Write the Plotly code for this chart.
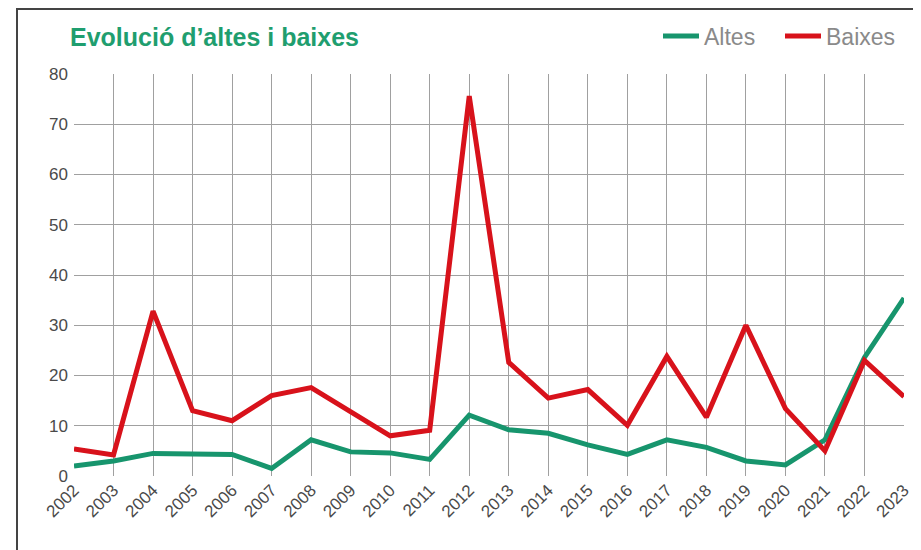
import plotly.graph_objects as go

years = list(range(2002, 2024))
altes = [2.0, 3.0, 4.5, 4.4, 4.3, 1.5, 7.2, 4.8, 4.6, 3.3, 12.1, 9.2, 8.5, 6.2, 4.3, 7.2, 5.7, 3.0, 2.2, 7.2, 23.6, 35.4]
baixes = [5.4, 4.2, 32.8, 13.0, 11.0, 16.0, 17.6, 12.7, 8.0, 9.1, 75.6, 22.6, 15.5, 17.2, 10.1, 23.8, 11.7, 30.0, 13.4, 5.0, 23.0, 15.8]
y_ticks = [0, 10, 20, 30, 40, 50, 60, 70, 80]

GREEN = "#17956d"
RED = "#d8121b"

# page has an 8px body margin; figure is sized to fit the 921x550 window
W, H = 913, 542
L, T = 66, 66
PW, PH = 830, 402
R = W - L - PW
B = H - T - PH

fig = go.Figure()
fig.add_trace(go.Scatter(x=years, y=altes, mode="lines", name="Altes",
                         line=dict(color=GREEN, width=5)))
fig.add_trace(go.Scatter(x=years, y=baixes, mode="lines", name="Baixes",
                         line=dict(color=RED, width=5)))

fig.update_layout(
    width=W, height=H,
    margin=dict(l=L, r=R, t=T, b=B, autoexpand=False),
    paper_bgcolor="white", plot_bgcolor="white",
    font=dict(family="Liberation Sans, Arial, sans-serif", color="#505050", size=17),
    title=dict(text="<b>Evolució d’altes i baixes</b>", x=62 / W, xref="container",
               xanchor="left", y=1 - 29 / H, yanchor="middle",
               font=dict(size=25, color="#1f9e6f", family="Liberation Sans, Arial, sans-serif")),
    legend=dict(orientation="h", x=(894 - L) / PW, xanchor="right", y=(PH + T - 28) / PH,
                yanchor="middle",
                font=dict(size=23, color="#8a8a8a"), bgcolor="rgba(0,0,0,0)",
                itemwidth=36, entrywidth=71),
    showlegend=True,
)
fig.update_xaxes(range=[2002, 2023], tickmode="array", tickvals=years,
                 ticktext=[str(y) for y in years], tickangle=-45, automargin=False,
                 showgrid=True, gridcolor="#a0a0a0", gridwidth=1,
                 zeroline=False, showline=False, ticks="",
                 tickfont=dict(size=17, color="#4a4a4a"))
fig.update_yaxes(range=[0, 80], tickmode="array", tickvals=y_ticks, automargin=False,
                 showgrid=True, gridcolor="#a0a0a0", gridwidth=1,
                 zeroline=False, showline=False, ticks="", ticklabelstandoff=5,
                 tickfont=dict(size=17, color="#4a4a4a"))

# outer frame
fig.add_shape(type="rect", xref="paper", yref="paper",
              x0=(9 - L) / PW, x1=(W + 10 - L) / PW,
              y0=-(B + 10) / PH, y1=(PH + T - 1) / PH,
              line=dict(color="#444444", width=2), fillcolor="rgba(0,0,0,0)", layer="below")

fig.write_html("out.html")
